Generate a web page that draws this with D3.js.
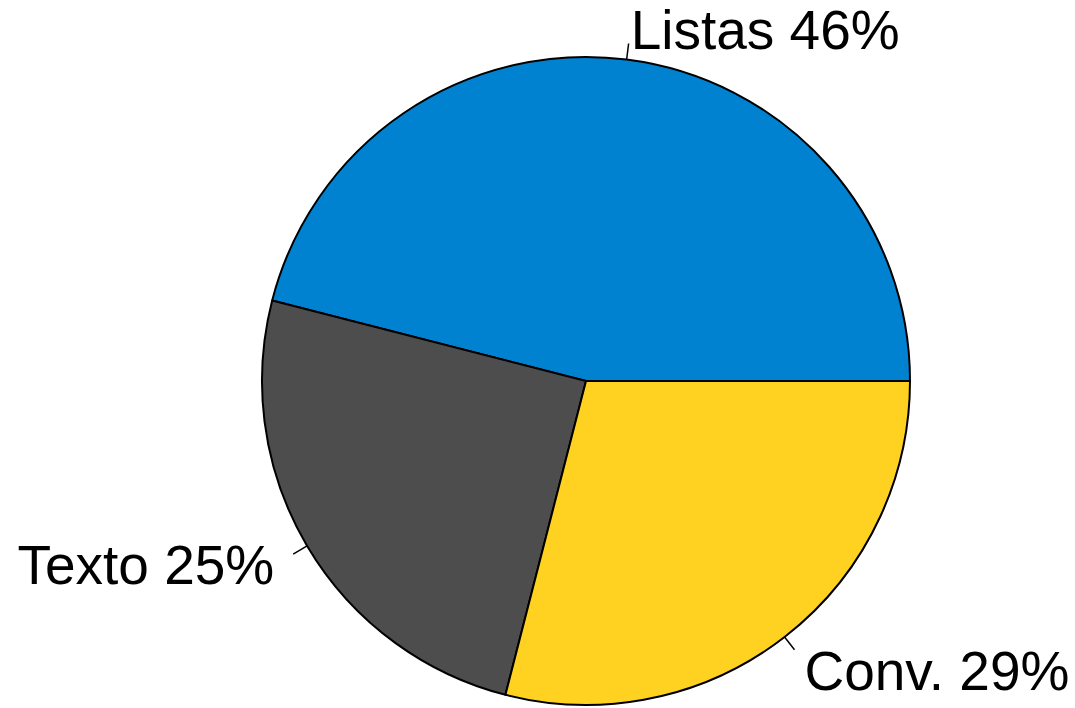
<!DOCTYPE html>
<html>
<head>
<meta charset="utf-8">
<script src="https://cdn.jsdelivr.net/npm/d3@7"></script>
<style>
  html, body { margin: 0; padding: 0; background: #fff; }
  svg { display: block; }
  text { font-family: "Liberation Sans", Arial, sans-serif; }
</style>
</head>
<body>
<svg id="chart" width="1075" height="708"></svg>
<script>
// Share of items by category
const categories = ["Listas", "Texto", "Conv."];
const values = [46, 25, 29];
const colors = ["#0082D1", "#4D4D4D", "#FFD221"];

const width = 1075, height = 708;
const cx = 586, cy = 381, radius = 324;
const fontSize = 55;

const svg = d3.select("#chart");
const g = svg.append("g").attr("transform", `translate(${cx},${cy})`);

// Slices start at 3 o'clock and run counter-clockwise
const pie = d3.pie()
  .sort(null)
  .value(d => d)
  .startAngle(Math.PI / 2)
  .endAngle(Math.PI / 2 - 2 * Math.PI);

const arcs = pie(values);
const arc = d3.arc().innerRadius(0).outerRadius(radius);

g.selectAll("path.slice")
  .data(arcs)
  .join("path")
  .attr("class", "slice")
  .attr("d", arc)
  .attr("fill", (d, i) => colors[i])
  .attr("stroke", "#000")
  .attr("stroke-width", 2)
  .attr("stroke-linejoin", "round");

// Point on the circle at a d3 angle (clockwise from 12 o'clock)
const polar = (a, r) => [Math.sin(a) * r, -Math.cos(a) * r];

const mid = d => (d.startAngle + d.endAngle) / 2;

g.selectAll("line.leader")
  .data(arcs)
  .join("line")
  .attr("class", "leader")
  .attr("x1", d => polar(mid(d), radius)[0])
  .attr("y1", d => polar(mid(d), radius)[1])
  .attr("x2", d => polar(mid(d), radius * 1.05)[0])
  .attr("y2", d => polar(mid(d), radius * 1.05)[1])
  .attr("stroke", "#000")
  .attr("stroke-width", 1.5);

// Labels sit just outside the rim; right-side labels start there,
// left-side labels end there, and lower labels drop a little further.
const total = d3.sum(values);
g.selectAll("text.label")
  .data(arcs)
  .join("text")
  .attr("class", "label")
  .attr("x", d => {
    const [x] = polar(mid(d), radius * 1.1);
    return Math.sin(mid(d)) >= 0 ? x : x - 5;
  })
  .attr("y", d => {
    const [, y] = polar(mid(d), radius * 1.1);
    return y + 0.4 * fontSize + Math.max(0, -Math.cos(mid(d)) - 0.6) * 30;
  })
  .attr("text-anchor", d => Math.sin(mid(d)) >= 0 ? "start" : "end")
  .attr("font-size", fontSize)
  .attr("fill", "#000")
  .text((d, i) => `${categories[i]} ${Math.round(100 * d.value / total)}%`);
</script>
</body>
</html>
